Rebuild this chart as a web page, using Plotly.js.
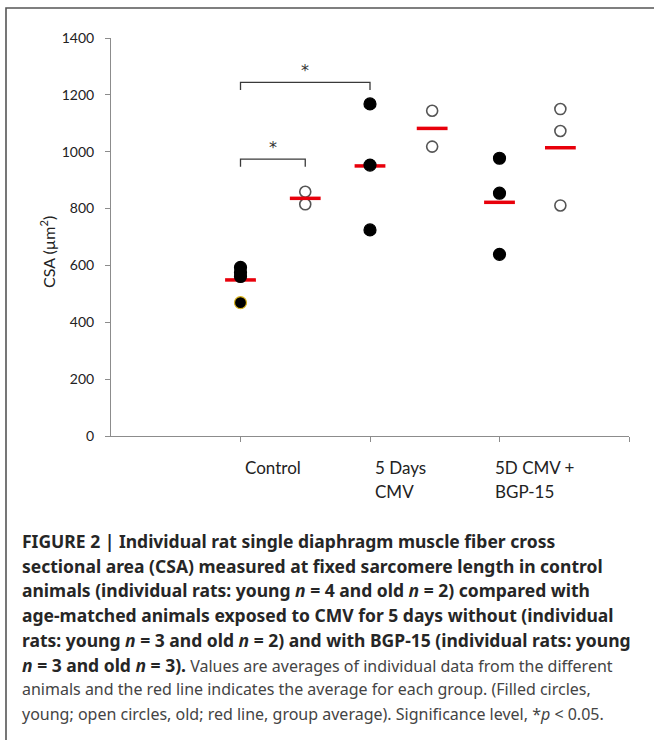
<!DOCTYPE html>
<html>
<head>
<meta charset="utf-8">
<script src="https://cdn.plot.ly/plotly-3.0.1.min.js"></script>
<style>html,body{margin:0;padding:0;background:#fff;}#chart{width:654px;height:740px;}</style>
</head>
<body>
<div id="chart"></div>
<script>
// ---- data ----
const categories = ['Control', '5 Days', '5D CMV +'];
const categoryLine2 = ['', 'CMV', 'BGP-15'];
const categoryX = [1, 2, 3];

const youngX = [1, 1, 1, 1, 2, 2, 2, 3, 3, 3];
const youngY = [593, 575, 561, 469, 1168, 953, 725, 977, 854, 639];

const oldX = [1.5, 1.5, 2.48, 2.48, 3.47, 3.47, 3.47];
const oldY = [859, 815, 1144, 1018, 1150, 1073, 811];

const meanX = [1, 2, 3, 1.5, 2.48, 3.47];
const meanY = [549, 950, 822, 836, 1082, 1014];

// significance brackets: [x start, x end, y of bar]
const bracketFrom = [1, 1];
const bracketTo = [1.5, 2];
const bracketY = [974, 1244];
const bracketLabel = ['*', '*'];

const yTicks = [0, 200, 400, 600, 800, 1000, 1200, 1400];

const B = s => '<span style="font-size:17.5px;font-weight:bold;fill:#262626">' + s + '</span>';
const captionLines = [
  B('FIGURE 2 | Individual rat single diaphragm muscle fiber cross'),
  B('sectional area (CSA) measured at fixed sarcomere length in control'),
  B('animals (individual rats: young <i>n</i> = 4 and old <i>n</i> = 2) compared with'),
  B('age-matched animals exposed to CMV for 5 days without (individual'),
  B('rats: young <i>n</i> = 3 and old <i>n</i> = 2) and with BGP-15 (individual rats: young'),
  B('<i>n</i> = 3 and old <i>n</i> = 3).') + ' Values are averages of individual data from the different',
  'animals and the red line indicates the average for each group. (Filled circles,',
  'young; open circles, old; red line, group average). Significance level, *<i>p</i> &lt; 0.05.'
];

// ---- geometry ----
const W = 654, H = 740;
const M = {l: 111, r: 25, t: 38, b: 304};
const plotW = W - M.l - M.r, plotH = H - M.t - M.b;
const px2paperX = px => (px - M.l) / plotW;
const py2paperY = py => (H - M.b - py) / plotH;

const tickFont = {family: 'Lato, "Open Sans", sans-serif', size: 14, color: '#222'};
const catFont = {family: 'Lato, "Open Sans", sans-serif', size: 17, color: '#222'};
const axisColor = '#8c8c8c';

const traces = [
  {
    type: 'scatter', mode: 'markers', x: oldX, y: oldY, hoverinfo: 'x+y',
    marker: {size: 11, color: '#ffffff', line: {color: '#555555', width: 1.6}}
  },
  {
    type: 'scatter', mode: 'markers', x: meanX, y: meanY, hoverinfo: 'y',
    marker: {symbol: 'line-ew', size: 22, color: '#e8000b', line: {color: '#e8000b', width: 3.5}}
  },
  {
    type: 'scatter', mode: 'markers', x: youngX, y: youngY, hoverinfo: 'x+y',
    marker: {size: 12, color: '#000000',
      line: {color: youngY.map((v, i) => i === 3 ? '#d9b21a' : '#000000'), width: 1.2}}
  }
];

const shapes = [];
const annotations = [];

// brackets
const drop = 27;
for (let i = 0; i < bracketY.length; i++) {
  const x0 = bracketFrom[i], x1 = bracketTo[i], y = bracketY[i];
  shapes.push({
    type: 'path', xref: 'x', yref: 'y',
    path: `M ${x0} ${y - drop} L ${x0} ${y} L ${x1} ${y} L ${x1} ${y - drop}`,
    line: {color: '#3a3a3a', width: 1.3}
  });
  annotations.push({
    xref: 'x', yref: 'y', x: (x0 + x1) / 2, y: y, yanchor: 'middle', yshift: 12,
    text: bracketLabel[i], showarrow: false,
    font: {family: '"DejaVu Sans", sans-serif', size: 16, color: '#333'}
  });
}

// category labels (two lines, left aligned near ticks)
const labelShift = [2, 3, -7];
for (let i = 0; i < categories.length; i++) {
  annotations.push({
    xref: 'x', yref: 'paper', x: categoryX[i], xshift: labelShift[i], xanchor: 'left',
    y: py2paperY(467), yanchor: 'middle', text: categories[i], showarrow: false, font: catFont
  });
  if (categoryLine2[i]) {
    annotations.push({
      xref: 'x', yref: 'paper', x: categoryX[i], xshift: labelShift[i], xanchor: 'left',
      y: py2paperY(491), yanchor: 'middle', text: categoryLine2[i], showarrow: false, font: catFont
    });
  }
}

// y axis title
annotations.push({
  xref: 'paper', yref: 'paper', x: px2paperX(47), y: py2paperY(252), xanchor: 'center', yanchor: 'middle',
  text: 'CSA (µm<sup>2</sup>)', textangle: -90, showarrow: false,
  font: {family: 'Lato, "Open Sans", sans-serif', size: 16, color: '#222'}
});

// caption
const capTop = 541, capStep = 24.7;
captionLines.forEach((t, i) => {
  annotations.push({
    xref: 'paper', yref: 'paper', x: px2paperX(20), y: py2paperY(capTop + i * capStep),
    xanchor: 'left', yanchor: 'middle', align: 'left', text: t, showarrow: false,
    font: {family: '"Noto Sans", "Liberation Sans", Arial, sans-serif', size: 16, color: '#444444'}
  });
});

// figure border (left and top)
shapes.push({
  type: 'path', xref: 'paper', yref: 'paper',
  path: `M ${px2paperX(6)} ${py2paperY(741)} L ${px2paperX(6)} ${py2paperY(8)} L ${px2paperX(655)} ${py2paperY(8)}`,
  line: {color: '#555555', width: 1.6}
});

const layout = {
  width: W, height: H, margin: M,
  paper_bgcolor: '#ffffff', plot_bgcolor: '#ffffff',
  showlegend: false,
  xaxis: {
    range: [0, 4], showgrid: false, zeroline: false, showline: true, linecolor: axisColor, linewidth: 1,
    tickmode: 'array', tickvals: [1, 2, 3, 4], showticklabels: false,
    ticks: 'outside', ticklen: 5, tickcolor: axisColor, fixedrange: true
  },
  yaxis: {
    range: [0, 1400], showgrid: false, zeroline: false, showline: true, linecolor: axisColor, linewidth: 1,
    tickmode: 'array', tickvals: yTicks, ticktext: yTicks.map(String),
    ticks: 'outside', ticklen: 5, tickcolor: axisColor, tickfont: tickFont, ticklabelstandoff: 8,
    fixedrange: true
  },
  shapes: shapes,
  annotations: annotations
};

Plotly.newPlot('chart', traces, layout, {displayModeBar: false, staticPlot: true});
</script>
</body>
</html>
